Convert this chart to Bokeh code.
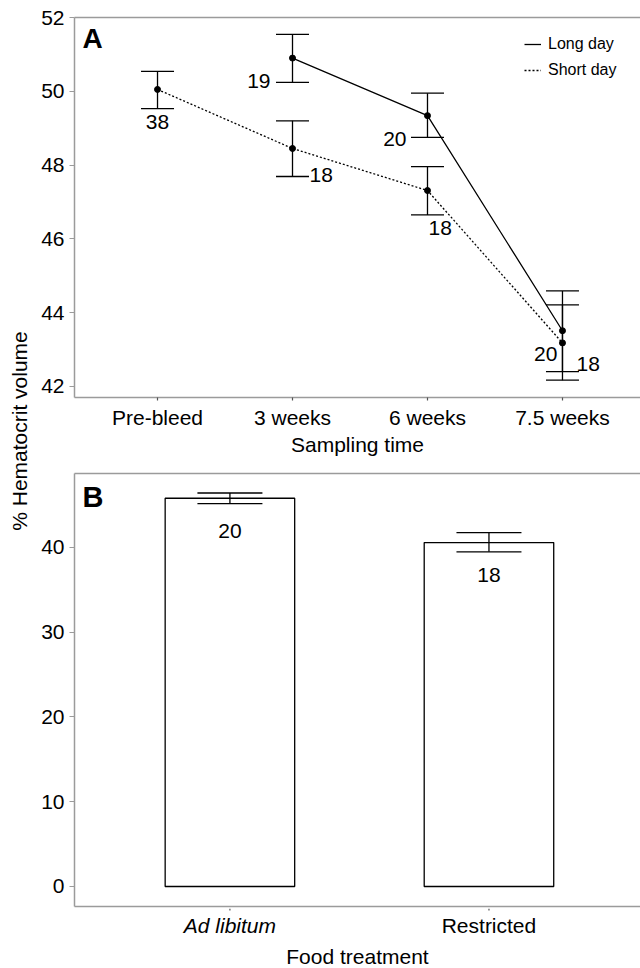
import math
from bokeh.plotting import figure
from bokeh.models import (Range1d, FixedTicker, LinearAxis, Whisker, TeeHead,
                          ColumnDataSource, Legend, LegendItem, Label)
from bokeh.layouts import row, column
from bokeh.embed import file_html
from bokeh.resources import INLINE
from bokeh.core.properties import value

FONT = "Liberation Sans"
GREY = "#9b9b9b"
NAN = float("nan")

# ---------------- data: panel A ----------------
times = ["Pre-bleed", "3 weeks", "6 weeks", "7.5 weeks"]
yticks_a = [42, 44, 46, 48, 50, 52]
long_mean = [NAN, 50.90, 49.34, 43.51]
long_upper = [NAN, 51.54, 49.95, 44.59]
long_lower = [NAN, 50.24, 48.75, 42.40]
long_n = [None, 19, 20, 20]
short_mean = [50.05, 48.45, 47.31, 43.18]
short_upper = [50.54, 49.20, 47.96, 44.21]
short_lower = [49.53, 47.69, 46.65, 42.17]
short_n = [38, 18, 18, 18]

# ---------------- data: panel B ----------------
food = ["Ad libitum", "Restricted"]
food_style = ["italic", "normal"]
yticks_b = [0, 10, 20, 30, 40]
food_mean = [45.78, 40.55]
food_upper = [46.40, 41.72]
food_lower = [45.15, 39.46]
food_n = [20, 18]

# label placement styles (px offsets from the lower error bound)
long_lab_style = [None, ("right", -22, -1), ("right", -21, 2), ("right", -5, -18)]
short_lab_style = [("center", 0, 13), ("left", 17, -2), ("left", 1, 13), ("left", 14, -16)]
food_lab_dy = [27, 23]


def style_axis(ax, tick_out=4, tick_color=GREY):
    ax.axis_line_color = GREY
    ax.axis_line_width = 1.5
    ax.major_tick_line_color = tick_color
    ax.major_tick_line_width = 1.2
    ax.major_tick_in = 0
    ax.major_tick_out = tick_out
    ax.minor_tick_line_color = None
    ax.major_label_text_font = FONT
    ax.major_label_text_font_size = "21px"
    ax.major_label_text_color = "black"
    ax.axis_label_text_font = FONT
    ax.axis_label_text_font_size = "21px"
    ax.axis_label_text_font_style = "normal"
    ax.axis_label_text_color = "black"


def top_border(p):
    ax = LinearAxis(ticker=FixedTicker(ticks=[]))
    ax.axis_line_color = GREY
    ax.axis_line_width = 1.5
    ax.major_tick_line_color = None
    ax.minor_tick_line_color = None
    p.add_layout(ax, "above")


def add_labels(p, xs, ys, texts, styles):
    groups = {}
    for x, y, t, s in zip(xs, ys, texts, styles):
        if s is None or t is None:
            continue
        al, dx, dy = s
        g = groups.setdefault(al, dict(x=[], y=[], text=[], dx=[], dy=[]))
        g["x"].append(x); g["y"].append(y); g["text"].append(str(t))
        g["dx"].append(dx); g["dy"].append(dy)
    for al, g in groups.items():
        src = ColumnDataSource(g)
        p.text(x="x", y="y", text="text", x_offset="dx", y_offset="dy", source=src,
               text_align=al, text_baseline="alphabetic", text_color="black",
               text_font=value(FONT), text_font_size="21px")


# ---------------- panel A ----------------
pA = figure(width=610, height=458, x_range=Range1d(-0.615, 3.578), y_range=Range1d(41.7, 52),
            output_backend="svg", toolbar_location=None,
            min_border_left=44, min_border_right=0, min_border_top=17, min_border_bottom=61)
pA.outline_line_color = None
pA.xgrid.visible = False
pA.ygrid.visible = False
style_axis(pA.yaxis[0], tick_out=5)
style_axis(pA.xaxis[0], tick_out=3, tick_color="#555555")
pA.yaxis.ticker = FixedTicker(ticks=yticks_a)
pA.xaxis.ticker = FixedTicker(ticks=list(range(len(times))))
pA.xaxis.major_label_overrides = {i: t for i, t in enumerate(times)}
pA.xaxis.axis_label = "Sampling time"
pA.xaxis.major_label_standoff = 5
pA.xaxis.axis_label_standoff = 1
pA.yaxis.major_label_standoff = 5
top_border(pA)

xs = list(range(len(times)))
long_idx = [i for i in xs if not math.isnan(long_mean[i])]

long_line = pA.line(xs, long_mean, line_color="black", line_width=1.3)
short_line = pA.line(xs, short_mean, line_color="black", line_width=1.3, line_dash="2 2")

for idx, up, lo, hw in ((long_idx, long_upper, long_lower, 33), (xs, short_upper, short_lower, 33)):
    src = ColumnDataSource(dict(x=idx, upper=[up[i] for i in idx], lower=[lo[i] for i in idx]))
    w = Whisker(source=src, base="x", upper="upper", lower="lower", dimension="height",
                line_color="black", line_width=1.3, level="overlay",
                upper_head=TeeHead(size=hw, line_color="black", line_width=1.3),
                lower_head=TeeHead(size=hw, line_color="black", line_width=1.3))
    pA.add_layout(w)

pA.scatter([xs[i] for i in long_idx], [long_mean[i] for i in long_idx], size=6,
           fill_color="black", line_color="black")
pA.scatter(xs, short_mean, size=6, fill_color="black", line_color="black")

add_labels(pA, xs, long_lower, long_n, long_lab_style)
add_labels(pA, xs, short_lower, short_n, short_lab_style)

legend = Legend(items=[LegendItem(label="Long day", renderers=[long_line]),
                       LegendItem(label="Short day", renderers=[short_line])],
                location=(450, 316), glyph_width=17, glyph_height=22, label_height=22,
                spacing=4, padding=5, margin=0, border_line_color=None,
                background_fill_alpha=0, label_text_font=FONT, label_text_font_size="16px",
                label_text_color="black", label_standoff=7)
pA.add_layout(legend)

pA.add_layout(Label(x=pA.x_range.start, y=pA.y_range.end, x_offset=8, y_offset=-21, text="A",
                    text_font=FONT, text_font_size="28px", text_font_style="bold",
                    text_color="black", text_baseline="alphabetic", text_align="left"))

# ---------------- panel B ----------------
pB = figure(width=610, height=450, x_range=Range1d(-0.6, 1.585), y_range=Range1d(-2.36, 48.7),
            output_backend="svg", toolbar_location=None,
            min_border_left=44, min_border_right=0, min_border_top=15, min_border_bottom=2)
pB.outline_line_color = None
pB.xgrid.visible = False
pB.ygrid.visible = False
style_axis(pB.yaxis[0], tick_out=5)
style_axis(pB.xaxis[0], tick_out=0)
pB.yaxis.ticker = FixedTicker(ticks=yticks_b)
fx = list(range(len(food)))
pB.xaxis.ticker = FixedTicker(ticks=[])
pB.yaxis.major_label_standoff = 5
top_border(pB)

pB.vbar(x=fx, top=food_mean, bottom=0, width=0.5, fill_color="white",
        line_color="black", line_width=1.3)
srcB = ColumnDataSource(dict(x=fx, upper=food_upper, lower=food_lower))
pB.add_layout(Whisker(source=srcB, base="x", upper="upper", lower="lower", dimension="height",
                      line_color="black", line_width=1.3, level="overlay",
                      upper_head=TeeHead(size=65, line_color="black", line_width=1.3),
                      lower_head=TeeHead(size=65, line_color="black", line_width=1.3)))
add_labels(pB, fx, food_lower, food_n, [("center", 0, d) for d in food_lab_dy])

pB.add_layout(Label(x=pB.x_range.start, y=pB.y_range.end, x_offset=8, y_offset=-23, text="B",
                    text_font=FONT, text_font_size="29px", text_font_style="bold",
                    text_color="black", text_baseline="alphabetic", text_align="left"))

# ---------------- panel B category ticks, labels and axis title ----------------
pF = figure(width=610, height=60, x_range=pB.x_range, y_range=Range1d(0, 60),
            output_backend="svg", toolbar_location=None, x_axis_type=None, y_axis_type=None,
            min_border_left=44, min_border_right=0, min_border_top=0, min_border_bottom=0)
pF.outline_line_color = None
pF.grid.visible = False
pF.segment(x0=fx, y0=[pF.y_range.end] * len(fx), x1=fx, y1=[pF.y_range.end - 2] * len(fx),
           line_color="#555555", line_width=1.2)
for i, (name, st) in enumerate(zip(food, food_style)):
    pF.text(x=[fx[i]], y=[43], text=[name], text_align="center", text_baseline="alphabetic",
            text_font=value(FONT), text_font_size="21px", text_font_style=st, text_color="black")
pF.text(x=[(pB.x_range.start + pB.x_range.end) / 2], y=[12], text=["Food treatment"],
        text_align="center", text_baseline="alphabetic", text_font=value(FONT),
        text_font_size="21px", text_color="black")

# ---------------- shared y label ----------------
pL = figure(width=30, height=968, x_range=Range1d(0, 30), y_range=Range1d(0, 968),
            output_backend="svg", toolbar_location=None, x_axis_type=None, y_axis_type=None,
            min_border_left=0, min_border_right=0, min_border_top=0, min_border_bottom=0)
pL.grid.visible = False
pL.outline_line_color = None
pL.add_layout(Label(x=19, y=968 - 430.5, angle=math.pi / 2, text="% Hematocrit volume",
                    text_font=FONT, text_font_size="21px", text_align="center",
                    text_color="black", text_baseline="middle"))

layout = row(pL, column(pA, pB, pF, spacing=0), spacing=0)
open("out.html", "w").write(file_html(layout, INLINE))
